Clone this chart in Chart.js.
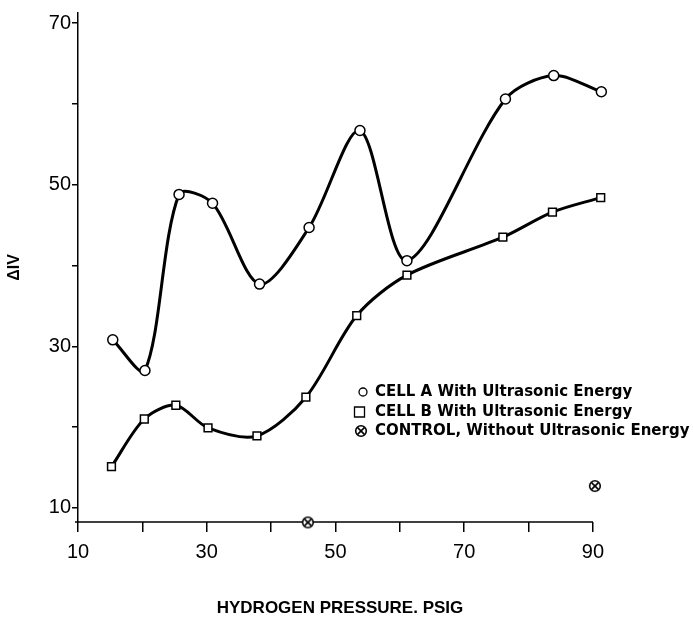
<!DOCTYPE html>
<html>
<head>
<meta charset="utf-8">
<script src="https://cdn.jsdelivr.net/npm/chart.js@4/dist/chart.umd.min.js"></script>
<style>
  body { margin: 0; background: #fff; }
  #wrap { width: 693px; height: 617px; position: relative; }
</style>
</head>
<body>
<div id="wrap"><canvas id="chart"></canvas></div>
<script>
// values
const pressureA = [15.4, 20.4, 25.7, 30.9, 38.2, 45.9, 53.8, 61.1, 76.4, 83.9, 91.3];
const cellA = [30.8, 27.0, 48.8, 47.7, 37.7, 44.7, 56.7, 40.6, 60.6, 63.5, 61.5];
const pressureB = [15.2, 20.3, 25.2, 30.2, 37.8, 45.4, 53.3, 61.1, 76.0, 83.7, 91.2];
const cellB = [15.1, 21.0, 22.7, 19.9, 18.9, 23.7, 33.8, 38.8, 43.5, 46.6, 48.4];
const pressureControl = [45.7, 90.3];
const control = [8.2, 12.7];

const xTicks = [10, 20, 30, 40, 50, 60, 70, 80, 90];
const xTickLabels = [10, 30, 50, 70, 90];
const yTicks = [10, 20, 30, 40, 50, 60, 70];
const yTickLabels = [10, 30, 50, 70];

const legendLabels = [
  'CELL A With Ultrasonic Energy',
  'CELL B With Ultrasonic Energy',
  'CONTROL, Without Ultrasonic Energy'
];

const toPoints = (xs, ys) => xs.map((x, i) => ({ x: x, y: ys[i] }));

// circle with a cross inside for the control runs
function makeCrossCircle() {
  const c = document.createElement('canvas');
  c.width = 14; c.height = 14;
  const g = c.getContext('2d');
  g.fillStyle = '#fff';
  g.strokeStyle = '#000';
  g.lineWidth = 1.6;
  g.beginPath(); g.arc(7, 7, 5.3, 0, Math.PI * 2); g.fill(); g.stroke();
  g.beginPath();
  g.moveTo(3.6, 3.6); g.lineTo(10.4, 10.4);
  g.moveTo(10.4, 3.6); g.lineTo(3.6, 10.4);
  g.stroke();
  return c;
}
const crossCircle = makeCrossCircle();

// x axis line stops at the last tick, the last readings sit past it
const axisLinePlugin = {
  id: 'xAxisLine',
  beforeDatasetsDraw(chart) {
    const ctx = chart.ctx;
    const x = chart.scales.x;
    const area = chart.chartArea;
    ctx.save();
    ctx.strokeStyle = '#000';
    ctx.lineWidth = 1.5;
    ctx.beginPath();
    ctx.moveTo(area.left - 3, area.bottom);
    ctx.lineTo(x.getPixelForValue(xTicks[xTicks.length - 1]), area.bottom);
    ctx.stroke();
    ctx.restore();
  }
};

const legendPlugin = {
  id: 'figLegend',
  afterDraw(chart) {
    const ctx = chart.ctx;
    const rows = [392, 412, 431];
    ctx.save();
    ctx.strokeStyle = '#000';
    ctx.fillStyle = '#fff';
    ctx.lineWidth = 1.3;
    ctx.beginPath(); ctx.arc(363, rows[0], 4, 0, Math.PI * 2); ctx.fill(); ctx.stroke();
    ctx.beginPath(); ctx.rect(354.5, rows[1] - 5, 10, 10); ctx.fill(); ctx.stroke();
    ctx.drawImage(crossCircle, 361 - 7, rows[2] - 7);
    ctx.fillStyle = '#000';
    ctx.font = 'bold 15px "DejaVu Sans"';
    ctx.textBaseline = 'middle';
    ctx.textAlign = 'left';
    legendLabels.forEach((t, i) => ctx.fillText(t, 375, rows[i]));
    ctx.restore();
  }
};

new Chart(document.getElementById('chart'), {
  type: 'line',
  data: {
    datasets: [
      {
        label: legendLabels[0],
        data: toPoints(pressureA, cellA),
        borderColor: '#000',
        borderWidth: 3,
        tension: 0.3,
        pointStyle: 'circle',
        pointRadius: 5,
        pointBorderWidth: 1.5,
        pointBackgroundColor: '#fff',
        pointBorderColor: '#000',
        clip: false
      },
      {
        label: legendLabels[1],
        data: toPoints(pressureB, cellB),
        borderColor: '#000',
        borderWidth: 3,
        tension: 0.3,
        pointStyle: 'rect',
        pointRadius: 5.5,
        pointBorderWidth: 1.5,
        pointBackgroundColor: '#fff',
        pointBorderColor: '#000',
        clip: false
      },
      {
        label: legendLabels[2],
        data: toPoints(pressureControl, control),
        showLine: false,
        pointStyle: crossCircle,
        pointRadius: 6,
        clip: false
      }
    ]
  },
  options: {
    responsive: true,
    maintainAspectRatio: false,
    animation: false,
    layout: { padding: { top: 12, right: 91, bottom: 0, left: 0 } },
    elements: { line: { capBezierPoints: false } },
    plugins: {
      legend: { display: false },
      tooltip: { enabled: false }
    },
    scales: {
      x: {
        type: 'linear',
        min: 10,
        max: 91.4,
        afterFit: s => { s.height = 95; },
        afterBuildTicks: s => { s.ticks = xTicks.map(v => ({ value: v })); },
        grid: { drawOnChartArea: false, drawTicks: true, tickLength: 10, color: '#000', lineWidth: 1.5 },
        border: { display: false },
        ticks: {
          color: '#000',
          padding: 8,
          maxRotation: 0,
          autoSkip: false,
          font: { family: '"Liberation Sans"', size: 20 },
          callback: v => xTickLabels.includes(v) ? String(v) : ''
        },
        title: {
          display: true,
          text: 'HYDROGEN PRESSURE. PSIG',
          color: '#000',
          font: { family: '"Liberation Sans"', size: 17, weight: 'bold', lineHeight: 1 },
          padding: { top: 0, bottom: 0 }
        }
      },
      y: {
        min: 8.25,
        max: 71.25,
        afterFit: s => { s.width = 78; },
        afterBuildTicks: s => { s.ticks = yTicks.map(v => ({ value: v })); },
        grid: { drawOnChartArea: false, drawTicks: true, tickLength: 6, color: '#000', lineWidth: 1.5 },
        border: { display: true, color: '#000', width: 1.5 },
        ticks: {
          color: '#000',
          padding: 1,
          font: { family: '"Liberation Sans"', size: 20 },
          callback: v => yTickLabels.includes(v) ? String(v) : ''
        },
        title: {
          display: true,
          text: 'ΔIV',
          color: '#000',
          font: { family: '"Liberation Sans"', size: 16, weight: 'bold', lineHeight: 1 },
          padding: { top: 7, bottom: 0 }
        }
      }
    }
  },
  plugins: [axisLinePlugin, legendPlugin]
});
</script>
</body>
</html>
